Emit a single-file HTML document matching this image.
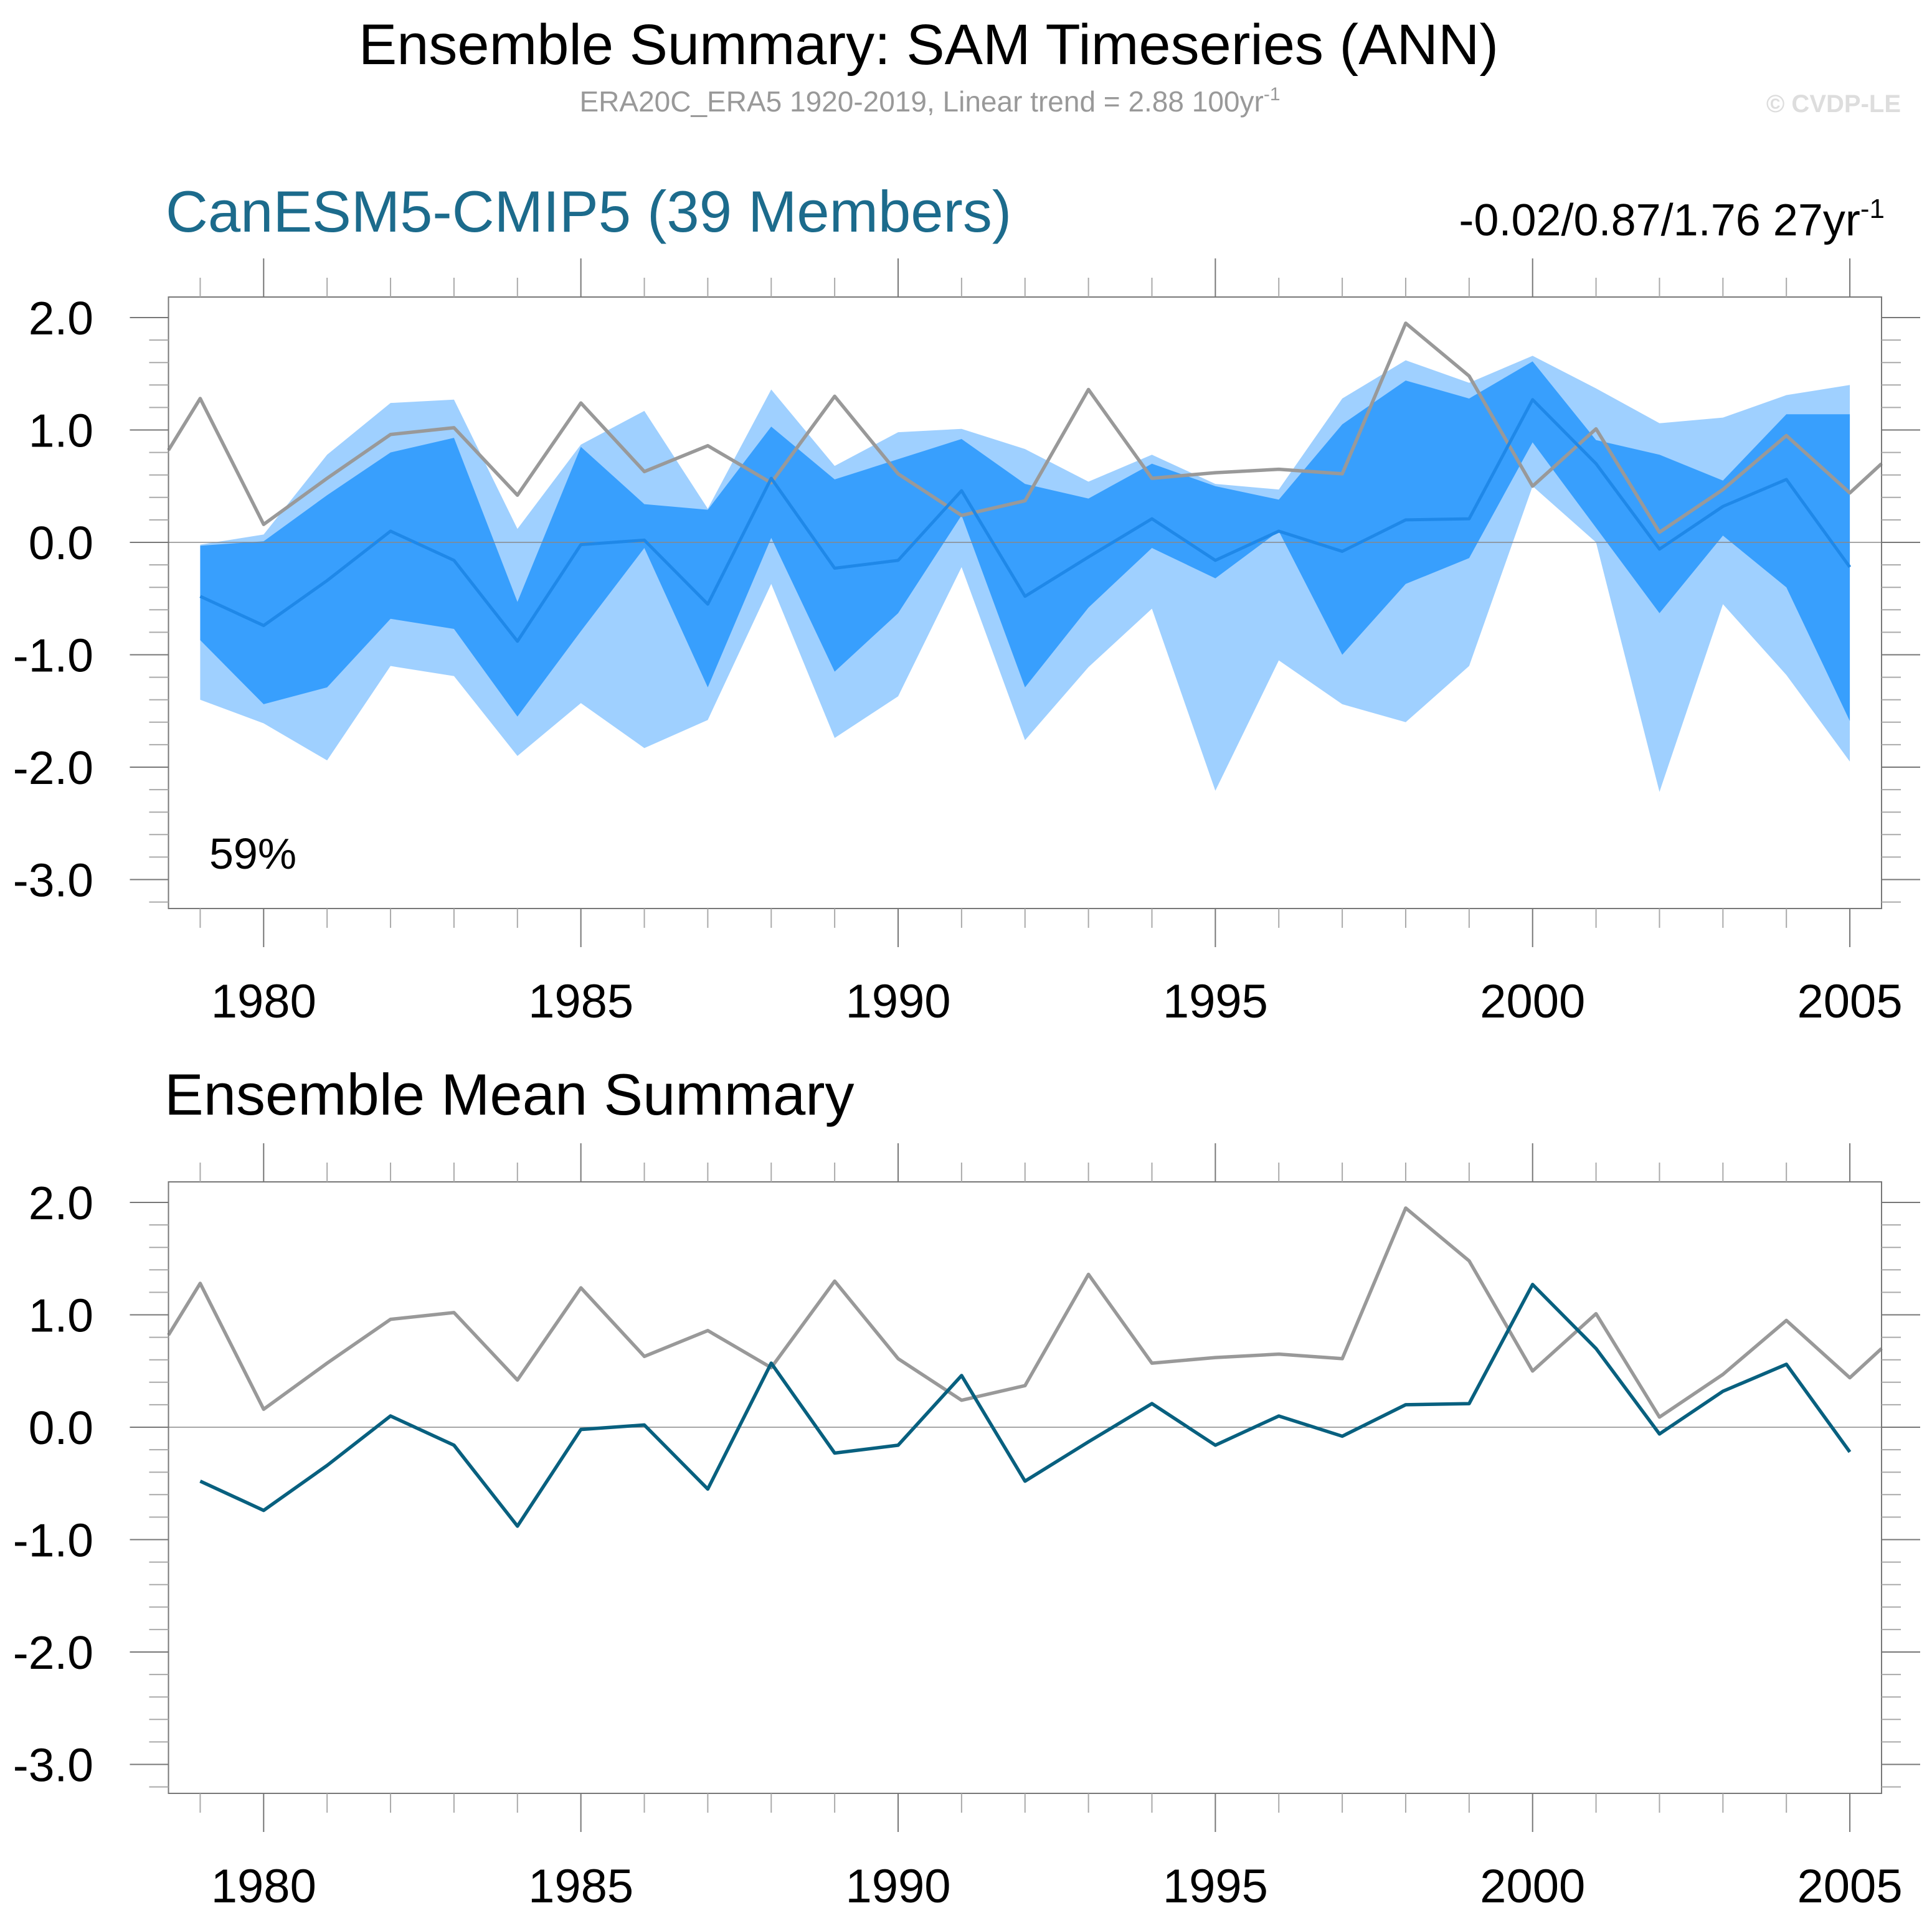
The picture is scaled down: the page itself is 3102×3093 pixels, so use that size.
<!DOCTYPE html>
<html><head><meta charset="utf-8"><style>
html,body{margin:0;padding:0;background:#fff;}
svg{display:block;font-family:"Liberation Sans",sans-serif;}
</style></head><body>
<svg id="chart" width="3102" height="3093" viewBox="0 0 3102 3093" xmlns="http://www.w3.org/2000/svg">
<text x="1491" y="103" font-size="92" text-anchor="middle" fill="#000">Ensemble Summary: SAM Timeseries (ANN)</text>
<text x="1493" y="179" font-size="46" text-anchor="middle" fill="#999">ERA20C_ERA5 1920-2019, Linear trend = 2.88 100yr<tspan dy="-18" font-size="30">-1</tspan></text>
<text x="3052" y="180" font-size="40" font-weight="bold" text-anchor="end" fill="#ddd">© CVDP-LE</text>
<text x="266" y="372" font-size="94" fill="#1c6b8c">CanESM5-CMIP5 (39 Members)</text>
<text x="3026" y="378" font-size="72" text-anchor="end" fill="#000">-0.02/0.87/1.76 27yr<tspan dy="-28" font-size="44">-1</tspan></text>
<text x="264" y="1790" font-size="94" fill="#000">Ensemble Mean Summary</text>
<g id="p1"></g>
<g id="p2"></g>
</svg>
<script>
const years=[1979,1980,1981,1982,1983,1984,1985,1986,1987,1988,1989,1990,1991,1992,1993,1994,1995,1996,1997,1998,1999,2000,2001,2002,2003,2004,2005];
const obsYears=[1978.5,1979,1980,1981,1982,1983,1984,1985,1986,1987,1988,1989,1990,1991,1992,1993,1994,1995,1996,1997,1998,1999,2000,2001,2002,2003,2004,2005,2005.5];
const obsValues=[0.82,1.28,0.16,0.57,0.96,1.02,0.42,1.24,0.63,0.86,0.53,1.30,0.61,0.24,0.37,1.36,0.57,0.62,0.65,0.61,1.95,1.48,0.50,1.01,0.09,0.47,0.95,0.44,0.70];
const meanValues=[-0.48,-0.74,-0.34,0.10,-0.16,-0.88,-0.02,0.02,-0.55,0.57,-0.23,-0.16,0.46,-0.48,-0.13,0.21,-0.16,0.10,-0.08,0.20,0.21,1.27,0.70,-0.06,0.32,0.56,-0.22];
const innerUpper=[-0.03,0.01,0.42,0.80,0.93,-0.53,0.85,0.34,0.29,1.03,0.56,0.74,0.92,0.52,0.39,0.70,0.50,0.38,1.05,1.44,1.28,1.61,0.91,0.78,0.55,1.14,1.14];
const innerLower=[-0.87,-1.44,-1.29,-0.68,-0.77,-1.55,-0.79,-0.05,-1.29,0.04,-1.15,-0.63,0.24,-1.29,-0.58,-0.05,-0.32,0.10,-1.00,-0.37,-0.14,0.89,0.13,-0.63,0.06,-0.40,-1.59];
const outerUpper=[-0.02,0.07,0.78,1.24,1.27,0.12,0.87,1.17,0.30,1.36,0.68,0.98,1.01,0.83,0.54,0.78,0.52,0.47,1.28,1.62,1.42,1.66,1.37,1.06,1.11,1.31,1.40];
const outerLower=[-1.40,-1.61,-1.94,-1.10,-1.19,-1.90,-1.43,-1.83,-1.58,-0.37,-1.74,-1.37,-0.22,-1.76,-1.11,-0.59,-2.21,-1.05,-1.44,-1.60,-1.10,0.50,0.00,-2.22,-0.55,-1.18,-1.95];
const yTickLabels=["2.0","1.0","0.0","-1.0","-2.0","-3.0"];
const yTickValues=[2,1,0,-1,-2,-3];
const xTickYears=[1980,1985,1990,1995,2000,2005];

const NS="http://www.w3.org/2000/svg";
const L=270.5,R=3021,X0=1978.5,X1=2005.5;
function xs(yr){return L+(yr-X0)*(R-L)/(X1-X0);}
function mk(parent,tag,attrs){const e=document.createElementNS(NS,tag);for(const k in attrs)e.setAttribute(k,attrs[k]);parent.appendChild(e);return e;}
function drawPanel(g,off,bands,meanColor,meanW){
  const zero=871+off, top=477+off, bot=1459+off, U=180.5;
  const ys=v=>zero-v*U;
  mk(g,'rect',{x:L,y:top,width:R-L,height:bot-top,fill:'#fff',stroke:'none'});
  if(bands){
    const poly=(up,lo,fill,name)=>{let p=years.map((y,i)=>xs(y)+','+ys(up[i]));
      for(let i=years.length-1;i>=0;i--)p.push(xs(years[i])+','+ys(lo[i]));
      const e=mk(g,'polygon',{points:p.join(' '),fill:fill});
      
      };
    poly(outerUpper,outerLower,'#9fd0ff','outer-range-band');
    poly(innerUpper,innerLower,'#389ffd','inner-range-band');
  }
  const zl=mk(g,'line',{x1:L,x2:R,y1:zero,y2:zero,stroke:'#888','stroke-width':1.5});
  
  
  const ob=mk(g,'polyline',{points:obsYears.map((y,i)=>xs(y)+','+ys(obsValues[i])).join(' '),fill:'none',stroke:'#999','stroke-width':5.5,'stroke-linejoin':'round'});
  
  
  const me=mk(g,'polyline',{points:years.map((y,i)=>xs(y)+','+ys(meanValues[i])).join(' '),fill:'none',stroke:meanColor,'stroke-width':meanW,'stroke-linejoin':'round'});
  
  
  const fr=mk(g,'rect',{x:L,y:top,width:R-L,height:bot-top,fill:'none',stroke:'#777','stroke-width':2});
  
  
  for(let k=-16;k<=10;k++){const v=k/5,y=ys(v),maj=(k%5===0),len=maj?62:31;
    mk(g,'line',{x1:L-len,x2:L,y1:y,y2:y,stroke:maj?'#777':'#aaa','stroke-width':2});
    mk(g,'line',{x1:R,x2:R+len,y1:y,y2:y,stroke:maj?'#777':'#aaa','stroke-width':2});}
  yTickValues.forEach((v,i)=>{const t=mk(g,'text',{x:150,y:ys(v)+27,'font-size':75,'text-anchor':'end',fill:'#000'});t.textContent=yTickLabels[i];
    
    });
  for(let yr=1979;yr<=2005;yr++){const x=xs(yr),maj=(yr%5===0),len=maj?62:31;
    mk(g,'line',{x1:x,x2:x,y1:top-len,y2:top,stroke:maj?'#777':'#aaa','stroke-width':2});
    mk(g,'line',{x1:x,x2:x,y1:bot,y2:bot+len,stroke:maj?'#777':'#aaa','stroke-width':2});}
  xTickYears.forEach(yr=>{const t=mk(g,'text',{x:xs(yr),y:1634+off,'font-size':76,'text-anchor':'middle',fill:'#000'});t.textContent=yr;
    
    });
  if(bands){const t=mk(g,'text',{x:336,y:1395,'font-size':70,fill:'#000'});t.textContent='59%';
    
    }
}
drawPanel(document.getElementById('p1'),0,true,'#1f88e8',5);
drawPanel(document.getElementById('p2'),1421,false,'#08607f',5.5);
</script>
</body></html>
